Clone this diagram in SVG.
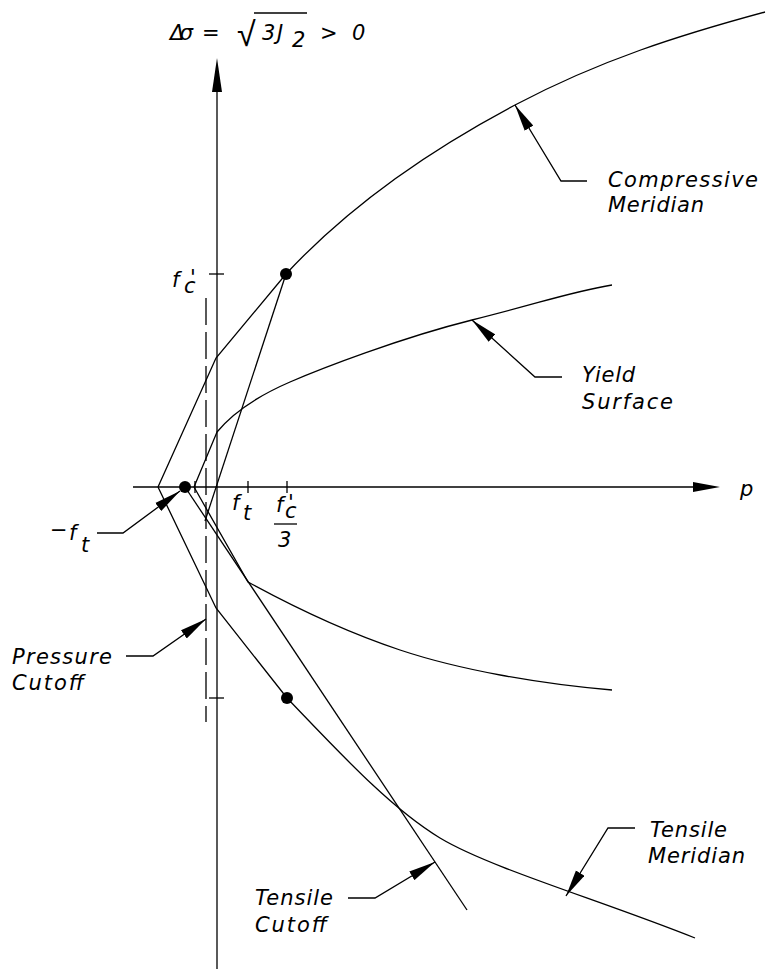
<svg xmlns="http://www.w3.org/2000/svg" width="770" height="969" viewBox="0 0 770 969">
<defs>
<style>
.ln{fill:none;stroke:#000;stroke-width:1.3}
.t{font-family:"DejaVu Sans","Liberation Sans",sans-serif;font-style:italic;font-weight:200;font-size:21px;fill:#000}
.dot{fill:#000}
.dash{fill:none;stroke:#000;stroke-width:1.3;stroke-dasharray:27 7}
.ah{fill:#000}
</style>
<marker id="ah" markerUnits="userSpaceOnUse" markerWidth="28" markerHeight="11" refX="27" refY="5" orient="auto" viewBox="0 0 28 10"><path d="M0,0 L27,5 L0,10 Z" fill="#000"/></marker>
</defs>
<rect width="770" height="969" fill="#fff"/>
<g id="axes">
<line class="ln" x1="217" y1="969" x2="217" y2="90"/>
<polygon class="ah" points="217,58 212,92 222,92"/>
<line class="ln" x1="133" y1="487" x2="695" y2="487"/>
<polygon class="ah" points="720,487 693,482 693,492"/>
<line class="ln" x1="209" y1="274" x2="224" y2="274"/>
<line class="ln" x1="209" y1="698" x2="224" y2="698"/>
<line class="ln" x1="195" y1="481" x2="195" y2="493"/>
<line class="ln" x1="248" y1="481" x2="248" y2="493"/>
<line class="ln" x1="287" y1="481" x2="287" y2="493"/>
<text class="t" x="740" y="496">p</text>
</g>
<g id="formula">
<text class="t" x="170" y="40" textLength="23">Δσ</text>
<text class="t" x="202" y="40" textLength="23">=</text>
<text x="237" y="46" style="font-family:'DejaVu Sans',sans-serif;font-size:34px;font-weight:200">√</text>
<line class="ln" x1="254" y1="13" x2="307" y2="13"/>
<text class="t" x="262" y="40">3<tspan x="277">J</tspan><tspan x="292" y="47">2</tspan></text>
<text class="t" x="320" y="40">&gt;</text>
<text class="t" x="352" y="40">0</text>
</g>
<g id="compressive-meridian">
<path class="ln" d="M158,487 L216,358 L286,274 C350,205 430,150 515,105 S680,35 765,12"/>
<circle class="dot" cx="286" cy="274" r="6"/>
<text class="t" x="172" y="287">f<tspan x="190" y="285">'</tspan><tspan x="184" y="293">c</tspan></text>
</g>
<g id="tensile-meridian">
<path class="ln" d="M158,487 L216,608 L287,698 C337,750 390,808 440,838 S600,900 695,938"/>
<circle class="dot" cx="287" cy="698" r="6"/>
</g>
<g id="yield-surface">
<path class="ln" d="M194,487 L217,432 C235,410 260,395 290,382 S400,338 472,320 S570,292 612,285"/>
<path class="ln" d="M194,487 L248,582 C290,605 340,630 400,650 S540,684 612,690"/>
</g>
<g id="uniaxial-path">
<line class="ln" x1="286" y1="274" x2="205" y2="521"/>
</g>
<g id="tensile-cutoff">
<line class="ln" x1="185" y1="487" x2="467" y2="910"/>
<circle class="dot" cx="185" cy="487" r="6"/>
</g>
<g id="pressure-cutoff">
<line class="dash" x1="206" y1="298" x2="206" y2="722"/>
</g>
<g id="axis-labels">
<text class="t" x="232" y="510">f<tspan x="243" y="520">t</tspan></text>
<text class="t" x="276" y="512">f<tspan x="288" y="510">'</tspan><tspan x="285" y="518">c</tspan></text>
<line class="ln" x1="274" y1="524" x2="297" y2="524"/>
<text class="t" x="278" y="547">3</text>
<text class="t" x="50" y="537">−<tspan x="69" y="540">f</tspan><tspan x="81" y="552">t</tspan></text>
</g>
<g id="label-compressive">
<text class="t" x="608" y="187" textLength="150">Compressive</text>
<text class="t" x="608" y="212" textLength="96">Meridian</text>
</g>
<g id="label-yield">
<text class="t" x="582" y="382" textLength="53">Yield</text>
<text class="t" x="582" y="409" textLength="91">Surface</text>
</g>
<g id="label-tensile-cutoff">
<text class="t" x="255" y="905" textLength="78">Tensile</text>
<text class="t" x="255" y="932" textLength="72">Cutoff</text>
</g>
<g id="label-tensile-meridian">
<text class="t" x="650" y="837" textLength="77">Tensile</text>
<text class="t" x="648" y="863" textLength="97">Meridian</text>
</g>
<g id="label-pressure">
<text class="t" x="12" y="664" textLength="100">Pressure</text>
<text class="t" x="12" y="690" textLength="72">Cutoff</text>
</g>
<g id="connectors">
<polyline class="ln" points="587,181 561,181 515,105" marker-end="url(#ah)"/>
<polyline class="ln" points="562,377 535,377 472,320" marker-end="url(#ah)"/>
<polyline class="ln" points="348,898 375,898 435,862" marker-end="url(#ah)"/>
<polyline class="ln" points="635,828 608,828 566,896" marker-end="url(#ah)"/>
<polyline class="ln" points="126,656 153,656 206,619" marker-end="url(#ah)"/>
<polyline class="ln" points="97,533 123,533 180,491" marker-end="url(#ah)"/>
</g>
</svg>
